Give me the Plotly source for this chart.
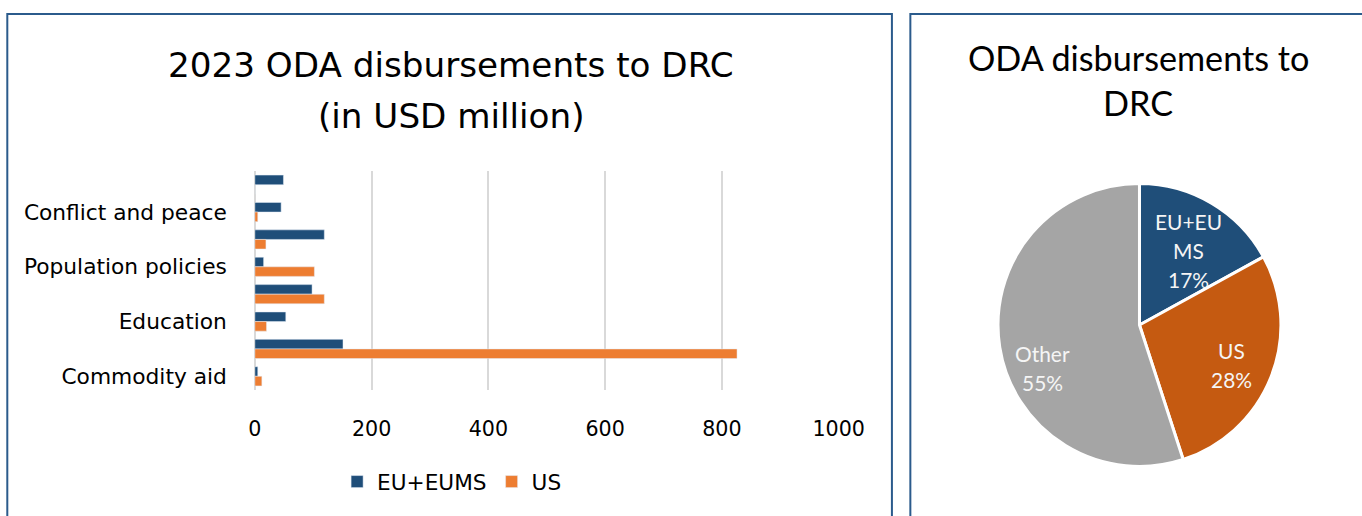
import math
import plotly.graph_objects as go

# ---- data ----
categories = ["Government and civil society", "Conflict and peace", "Water supply and sanitation",
              "Population policies", "Health", "Education", "Humanitarian aid", "Commodity aid"]
shown_labels = ["Conflict and peace", "Population policies", "Education", "Commodity aid"]
eu_values = [49, 45, 119, 15, 98, 53, 151, 5]
us_values = [0, 5, 19, 102, 119, 20, 826, 12]
x_ticks = [0, 200, 400, 600, 800, 1000]

pie_labels = ["EU+EUMS", "US", "Other"]
pie_label_lines = [["EU+EU", "MS"], ["US"], ["Other"]]
pie_values = [17, 28, 55]

bar_title_lines = ["2023 ODA disbursements to DRC", "(in USD million)"]
pie_title_lines = ["ODA disbursements to", "DRC"]

# ---- style ----
W, H = 1362, 516
S, OFF = 0.9795, 5.2          # horizontal compensation for the rendering seen in the snapshot
BAR_FONT = "DejaVu Sans"
PIE_FONT = "Lato"
EU_C, US_C = "#1F4E79", "#ED7D31"
PIE_COLORS = ["#1F4E79", "#C55A11", "#A5A5A5"]
BORDER_C = "#2B5B8C"
PIE_CX, PIE_CY, PIE_R = 1142, 325, 142          # target pixel geometry of pie
LABEL_R = [0.63, 0.71, 0.75]                    # label radius (fraction of R)
LABEL_NUDGE = [2.5, 1.5, -15]                   # label angle nudge (deg)
LINE_STEP = 29


def px_x(x):
    return (x - OFF) / S / W


def px_y(y):
    return 1 - y / H


def fs(size):
    return size / S


fig = go.Figure()
fig.add_trace(go.Bar(y=categories, x=eu_values, orientation="h", name="EU+EUMS",
                     marker=dict(color=EU_C)))
fig.add_trace(go.Bar(y=categories, x=us_values, orientation="h", name="US",
                     marker=dict(color=US_C)))

pr = PIE_R / S
fig.add_trace(go.Pie(labels=pie_labels, values=pie_values, textinfo="none",
                     sort=False, direction="clockwise", rotation=0,
                     marker=dict(colors=PIE_COLORS, line=dict(color="white", width=3)),
                     showlegend=False, hoverinfo="label+percent",
                     domain=dict(x=[px_x(PIE_CX) - pr / W, px_x(PIE_CX) + pr / W],
                                 y=[px_y(PIE_CY + pr), px_y(PIE_CY - pr)])))

annotations = []
for i, line in enumerate(bar_title_lines):
    annotations.append(dict(text=line, xref="paper", yref="paper", x=px_x(451), y=px_y(64.5 + 52 * i),
                            xanchor="center", yanchor="middle", showarrow=False,
                            font=dict(size=fs(33.5), family=BAR_FONT, color="#000000")))
for i, line in enumerate(pie_title_lines):
    annotations.append(dict(text=line, xref="paper", yref="paper", x=px_x(1141), y=px_y(58 + 44.5 * i),
                            xanchor="center", yanchor="middle", showarrow=False,
                            font=dict(size=fs(33.5), family=PIE_FONT, color="#000000")))

# pie labels derived from the slice angles
total = sum(pie_values)
cum = 0
for k, v in enumerate(pie_values):
    mid = (cum + v / 2) / total * 360 + LABEL_NUDGE[k]
    cum += v
    r = LABEL_R[k] * PIE_R
    lx = PIE_CX + r * math.sin(math.radians(mid))
    ly = PIE_CY - r * math.cos(math.radians(mid))
    lines = pie_label_lines[k] + [f"{round(v / total * 100)}%"]
    n = len(lines)
    for j, t in enumerate(lines):
        annotations.append(dict(text=t, xref="paper", yref="paper", x=px_x(lx),
                                y=px_y(ly + (j - (n - 1) / 2) * LINE_STEP),
                                xanchor="center", yanchor="middle", showarrow=False,
                                font=dict(size=fs(20.5), family=PIE_FONT, color="#F5F5F5")))

fig.update_layout(
    width=W, height=H, margin=dict(l=0, r=0, t=0, b=0), autosize=False,
    paper_bgcolor="white", plot_bgcolor="white",
    barmode="group", bargap=0.3, bargroupgap=0,
    font=dict(family=BAR_FONT, color="#000000"),
    xaxis=dict(domain=[px_x(254), px_x(840)], range=[0, 1000], tickvals=x_ticks,
               showgrid=True, gridcolor="#D9D9D9", gridwidth=1.5,
               zeroline=True, zerolinecolor="#D9D9D9", zerolinewidth=1.5,
               showline=False, ticks="", tickfont=dict(size=fs(20.2), family=BAR_FONT),
               ticklabelstandoff=24),
    yaxis=dict(domain=[px_y(390), px_y(171)], autorange="reversed",
               categoryorder="array", categoryarray=categories,
               tickvals=shown_labels, ticktext=shown_labels,
               showgrid=False, showline=False, ticks="",
               tickfont=dict(size=fs(21.3), family=BAR_FONT), ticklabelstandoff=27),
    legend=dict(orientation="h", x=px_x(452), xanchor="center", y=px_y(482), yanchor="middle",
                font=dict(size=fs(21.2), family=BAR_FONT), traceorder="normal",
                itemwidth=30, bgcolor="rgba(0,0,0,0)"),
    shapes=[
        dict(type="rect", xref="paper", yref="paper", x0=px_x(5.5), x1=px_x(893.5), y0=-0.05,
             y1=px_y(14), line=dict(color=BORDER_C, width=2), fillcolor="rgba(0,0,0,0)"),
        dict(type="rect", xref="paper", yref="paper", x0=px_x(912), x1=1.05, y0=-0.05,
             y1=px_y(14), line=dict(color=BORDER_C, width=2), fillcolor="rgba(0,0,0,0)"),
    ],
    annotations=annotations,
)

fig.write_html("out.html")
